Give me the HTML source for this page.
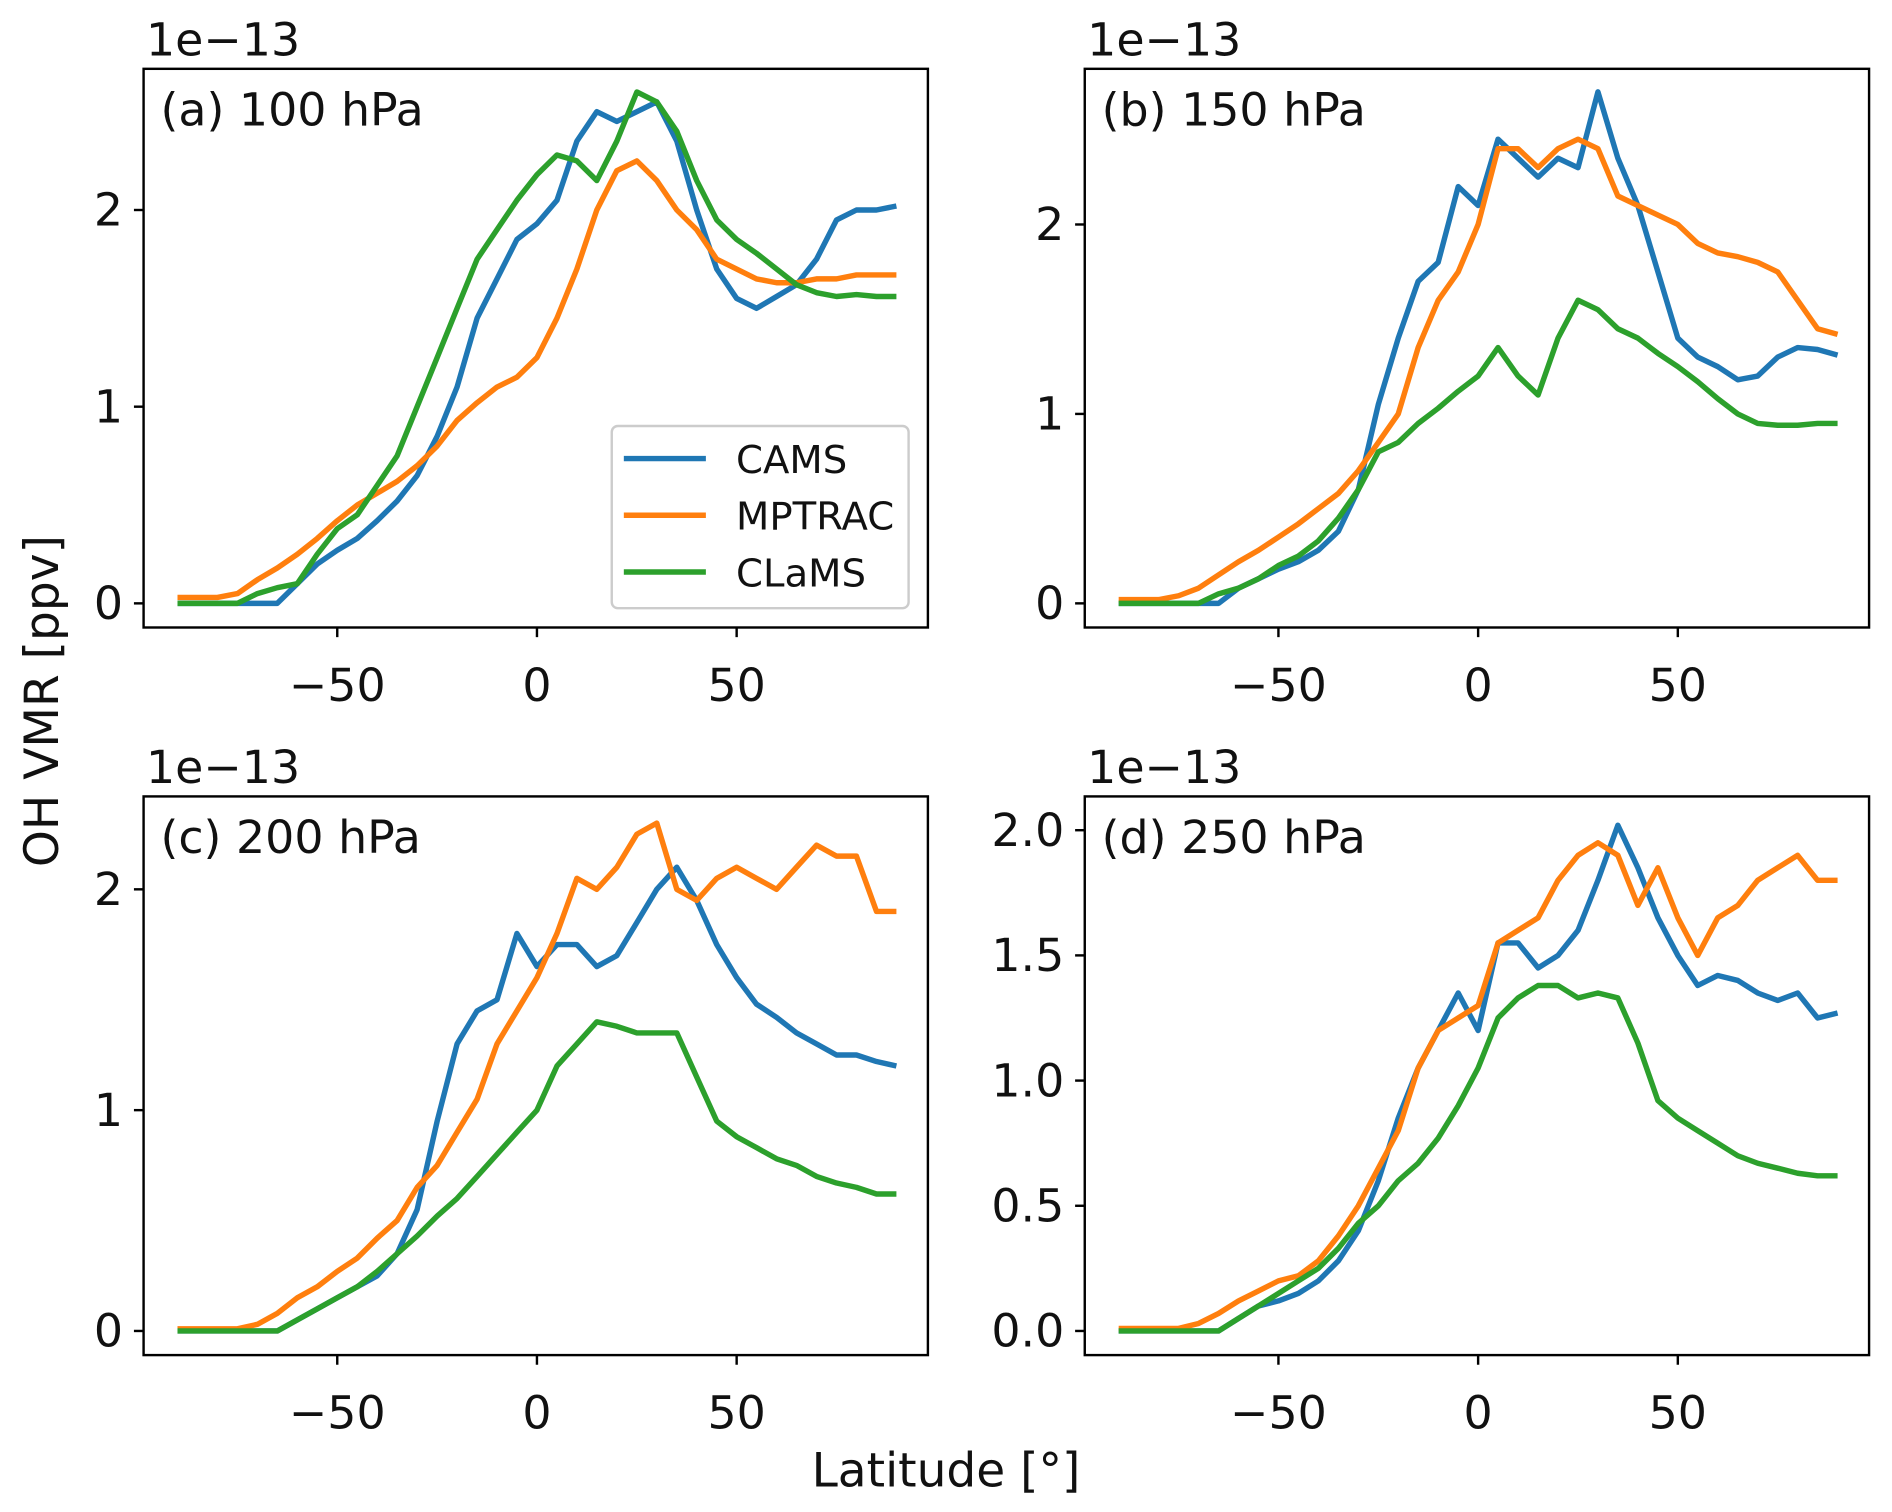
<!DOCTYPE html>
<html><head><meta charset="utf-8"><style>html,body{margin:0;padding:0;background:#fff}svg{display:block}text{font-family:"DejaVu Sans","Liberation Sans",sans-serif;fill:#111}</style></head>
<body>
<svg id="fig" width="1892" height="1512" viewBox="0 0 1568 1253" xmlns="http://www.w3.org/2000/svg">
<text x="0" y="0" transform="translate(48,581) rotate(-90)" text-anchor="middle" font-size="39">OH VMR [ppv]</text>
<text x="784" y="1232" text-anchor="middle" font-size="39">Latitude [°]</text>
</svg>
<script>
const lat = [-90,-85,-80,-75,-70,-65,-60,-55,-50,-45,-40,-35,-30,-25,-20,-15,-10,-5,0,5,10,15,20,25,30,35,40,45,50,55,60,65,70,75,80,85,90];
const seriesNames = ["CAMS","MPTRAC","CLaMS"];
const xTicks = [-50,0,50];
const camsA = [0,0,0,0,0,0,0.1,0.2,0.27,0.33,0.42,0.52,0.65,0.85,1.1,1.45,1.65,1.85,1.93,2.05,2.35,2.5,2.45,2.5,2.55,2.35,2.0,1.7,1.55,1.5,1.56,1.62,1.75,1.95,2.0,2.0,2.02];
const mptracA = [0.03,0.03,0.03,0.05,0.12,0.18,0.25,0.33,0.42,0.5,0.56,0.62,0.7,0.8,0.93,1.02,1.1,1.15,1.25,1.45,1.7,2.0,2.2,2.25,2.15,2.0,1.9,1.75,1.7,1.65,1.63,1.63,1.65,1.65,1.67,1.67,1.67];
const clamsA = [0,0,0,0,0.05,0.08,0.1,0.25,0.38,0.45,0.6,0.75,1.0,1.25,1.5,1.75,1.9,2.05,2.18,2.28,2.25,2.15,2.35,2.6,2.55,2.4,2.15,1.95,1.85,1.78,1.7,1.62,1.58,1.56,1.57,1.56,1.56];
const camsB = [0,0,0,0,0,0,0.08,0.13,0.18,0.22,0.28,0.38,0.6,1.05,1.4,1.7,1.8,2.2,2.1,2.45,2.35,2.25,2.35,2.3,2.7,2.35,2.1,1.75,1.4,1.3,1.25,1.18,1.2,1.3,1.35,1.34,1.31];
const mptracB = [0.02,0.02,0.02,0.04,0.08,0.15,0.22,0.28,0.35,0.42,0.5,0.58,0.7,0.85,1.0,1.35,1.6,1.75,2.0,2.4,2.4,2.3,2.4,2.45,2.4,2.15,2.1,2.05,2.0,1.9,1.85,1.83,1.8,1.75,1.6,1.45,1.42];
const clamsB = [0,0,0,0,0,0.05,0.08,0.13,0.2,0.25,0.33,0.45,0.6,0.8,0.85,0.95,1.03,1.12,1.2,1.35,1.2,1.1,1.4,1.6,1.55,1.45,1.4,1.32,1.25,1.17,1.08,1.0,0.95,0.94,0.94,0.95,0.95];
const camsC = [0,0,0,0,0,0,0.05,0.1,0.15,0.2,0.25,0.35,0.55,0.95,1.3,1.45,1.5,1.8,1.65,1.75,1.75,1.65,1.7,1.85,2.0,2.1,1.95,1.75,1.6,1.48,1.42,1.35,1.3,1.25,1.25,1.22,1.2];
const mptracC = [0.01,0.01,0.01,0.01,0.03,0.08,0.15,0.2,0.27,0.33,0.42,0.5,0.65,0.75,0.9,1.05,1.3,1.45,1.6,1.8,2.05,2.0,2.1,2.25,2.3,2.0,1.95,2.05,2.1,2.05,2.0,2.1,2.2,2.15,2.15,1.9,1.9];
const clamsC = [0,0,0,0,0,0,0.05,0.1,0.15,0.2,0.27,0.35,0.43,0.52,0.6,0.7,0.8,0.9,1.0,1.2,1.3,1.4,1.38,1.35,1.35,1.35,1.15,0.95,0.88,0.83,0.78,0.75,0.7,0.67,0.65,0.62,0.62];
const camsD = [0,0,0,0,0,0,0.05,0.1,0.12,0.15,0.2,0.28,0.4,0.6,0.85,1.05,1.2,1.35,1.2,1.55,1.55,1.45,1.5,1.6,1.8,2.02,1.85,1.65,1.5,1.38,1.42,1.4,1.35,1.32,1.35,1.25,1.27];
const mptracD = [0.01,0.01,0.01,0.01,0.03,0.07,0.12,0.16,0.2,0.22,0.28,0.38,0.5,0.65,0.8,1.05,1.2,1.25,1.3,1.55,1.6,1.65,1.8,1.9,1.95,1.9,1.7,1.85,1.65,1.5,1.65,1.7,1.8,1.85,1.9,1.8,1.8];
const clamsD = [0,0,0,0,0,0,0.05,0.1,0.15,0.2,0.25,0.33,0.43,0.5,0.6,0.67,0.77,0.9,1.05,1.25,1.33,1.38,1.38,1.33,1.35,1.33,1.15,0.92,0.85,0.8,0.75,0.7,0.67,0.65,0.63,0.62,0.62];
const yTicksABC = [0,1,2];
const yTicksD = [0,0.5,1,1.5,2];
const yLabelsD = ["0.0","0.5","1.0","1.5","2.0"];

const NS="http://www.w3.org/2000/svg";
const svg=document.getElementById('fig');
const colors=["#1f77b4","#ff7f0e","#2ca02c"];
function mk(tag,attrs,parent){const e=document.createElementNS(NS,tag);for(const k in attrs)e.setAttribute(k,attrs[k]);(parent||svg).appendChild(e);return e;}

const panels=[
 {id:"a",title:"(a) 100 hPa",L:119,R:769,T:57,B:520,x0:445,xs:3.31,y0:500,ys:163,data:[camsA,mptracA,clamsA],yt:yTicksABC,yl:["0","1","2"]},
 {id:"b",title:"(b) 150 hPa",L:899,R:1549,T:57,B:520,x0:1225,xs:3.31,y0:500,ys:157,data:[camsB,mptracB,clamsB],yt:yTicksABC,yl:["0","1","2"]},
 {id:"c",title:"(c) 200 hPa",L:119,R:769,T:660,B:1123,x0:445,xs:3.31,y0:1103,ys:183,data:[camsC,mptracC,clamsC],yt:yTicksABC,yl:["0","1","2"]},
 {id:"d",title:"(d) 250 hPa",L:899,R:1549,T:660,B:1123,x0:1225,xs:3.31,y0:1103,ys:207.5,data:[camsD,mptracD,clamsD],yt:yTicksD,yl:yLabelsD}
];
panels.forEach(p=>{
 const g=mk('g',{});
 
 
 const X=v=>p.x0+v*p.xs, Y=v=>p.y0-v*p.ys;
 p.data.forEach((arr,si)=>{
  const d=arr.map((v,i)=>(i?'L':'M')+X(lat[i]).toFixed(1)+','+Y(v).toFixed(1)).join(' ');
  const path=mk('path',{d:d,fill:'none',stroke:colors[si],'stroke-width':4.5,'stroke-linejoin':'round'},g);
  
  
 });
 const fr=mk('rect',{x:p.L,y:p.T,width:p.R-p.L,height:p.B-p.T,fill:'none',stroke:'#000','stroke-width':2},g);
 
 
 xTicks.forEach(t=>{
  mk('line',{x1:X(t),x2:X(t),y1:p.B,y2:p.B+8,stroke:'#000','stroke-width':2},g);
  const tx=mk('text',{x:X(t),y:p.B+61,'text-anchor':'middle','font-size':38},g);
  tx.textContent=t<0?'\u2212'+(-t):''+t;
  
  
 });
 p.yt.forEach((t,i)=>{
  mk('line',{x1:p.L-8,x2:p.L,y1:Y(t),y2:Y(t),stroke:'#000','stroke-width':2},g);
  const tx=mk('text',{x:p.L-17,y:Y(t)+13,'text-anchor':'end','font-size':38},g);
  tx.textContent=p.yl[i];
  
  
 });
 const off=mk('text',{x:p.L+2,y:p.T-11,'font-size':38},g);
 off.textContent='1e\u221213';
 
 
 const tt=mk('text',{x:p.L+14,y:p.T+47,'font-size':38},g);
 tt.textContent=p.title;
 
 
});
const lg=mk('g',{});


mk('rect',{x:507,y:353,width:246,height:151,rx:5,fill:'#fff','fill-opacity':0.8,stroke:'#ccc','stroke-width':2},lg);
seriesNames.forEach((n,i)=>{
 const y=380+i*47;
 mk('line',{x1:517,x2:585,y1:y,y2:y,stroke:colors[i],'stroke-width':4.5},lg);
 const t=mk('text',{x:610,y:y+12,'font-size':32},lg);
 t.textContent=n;
 
 
});
</script>
</body></html>
